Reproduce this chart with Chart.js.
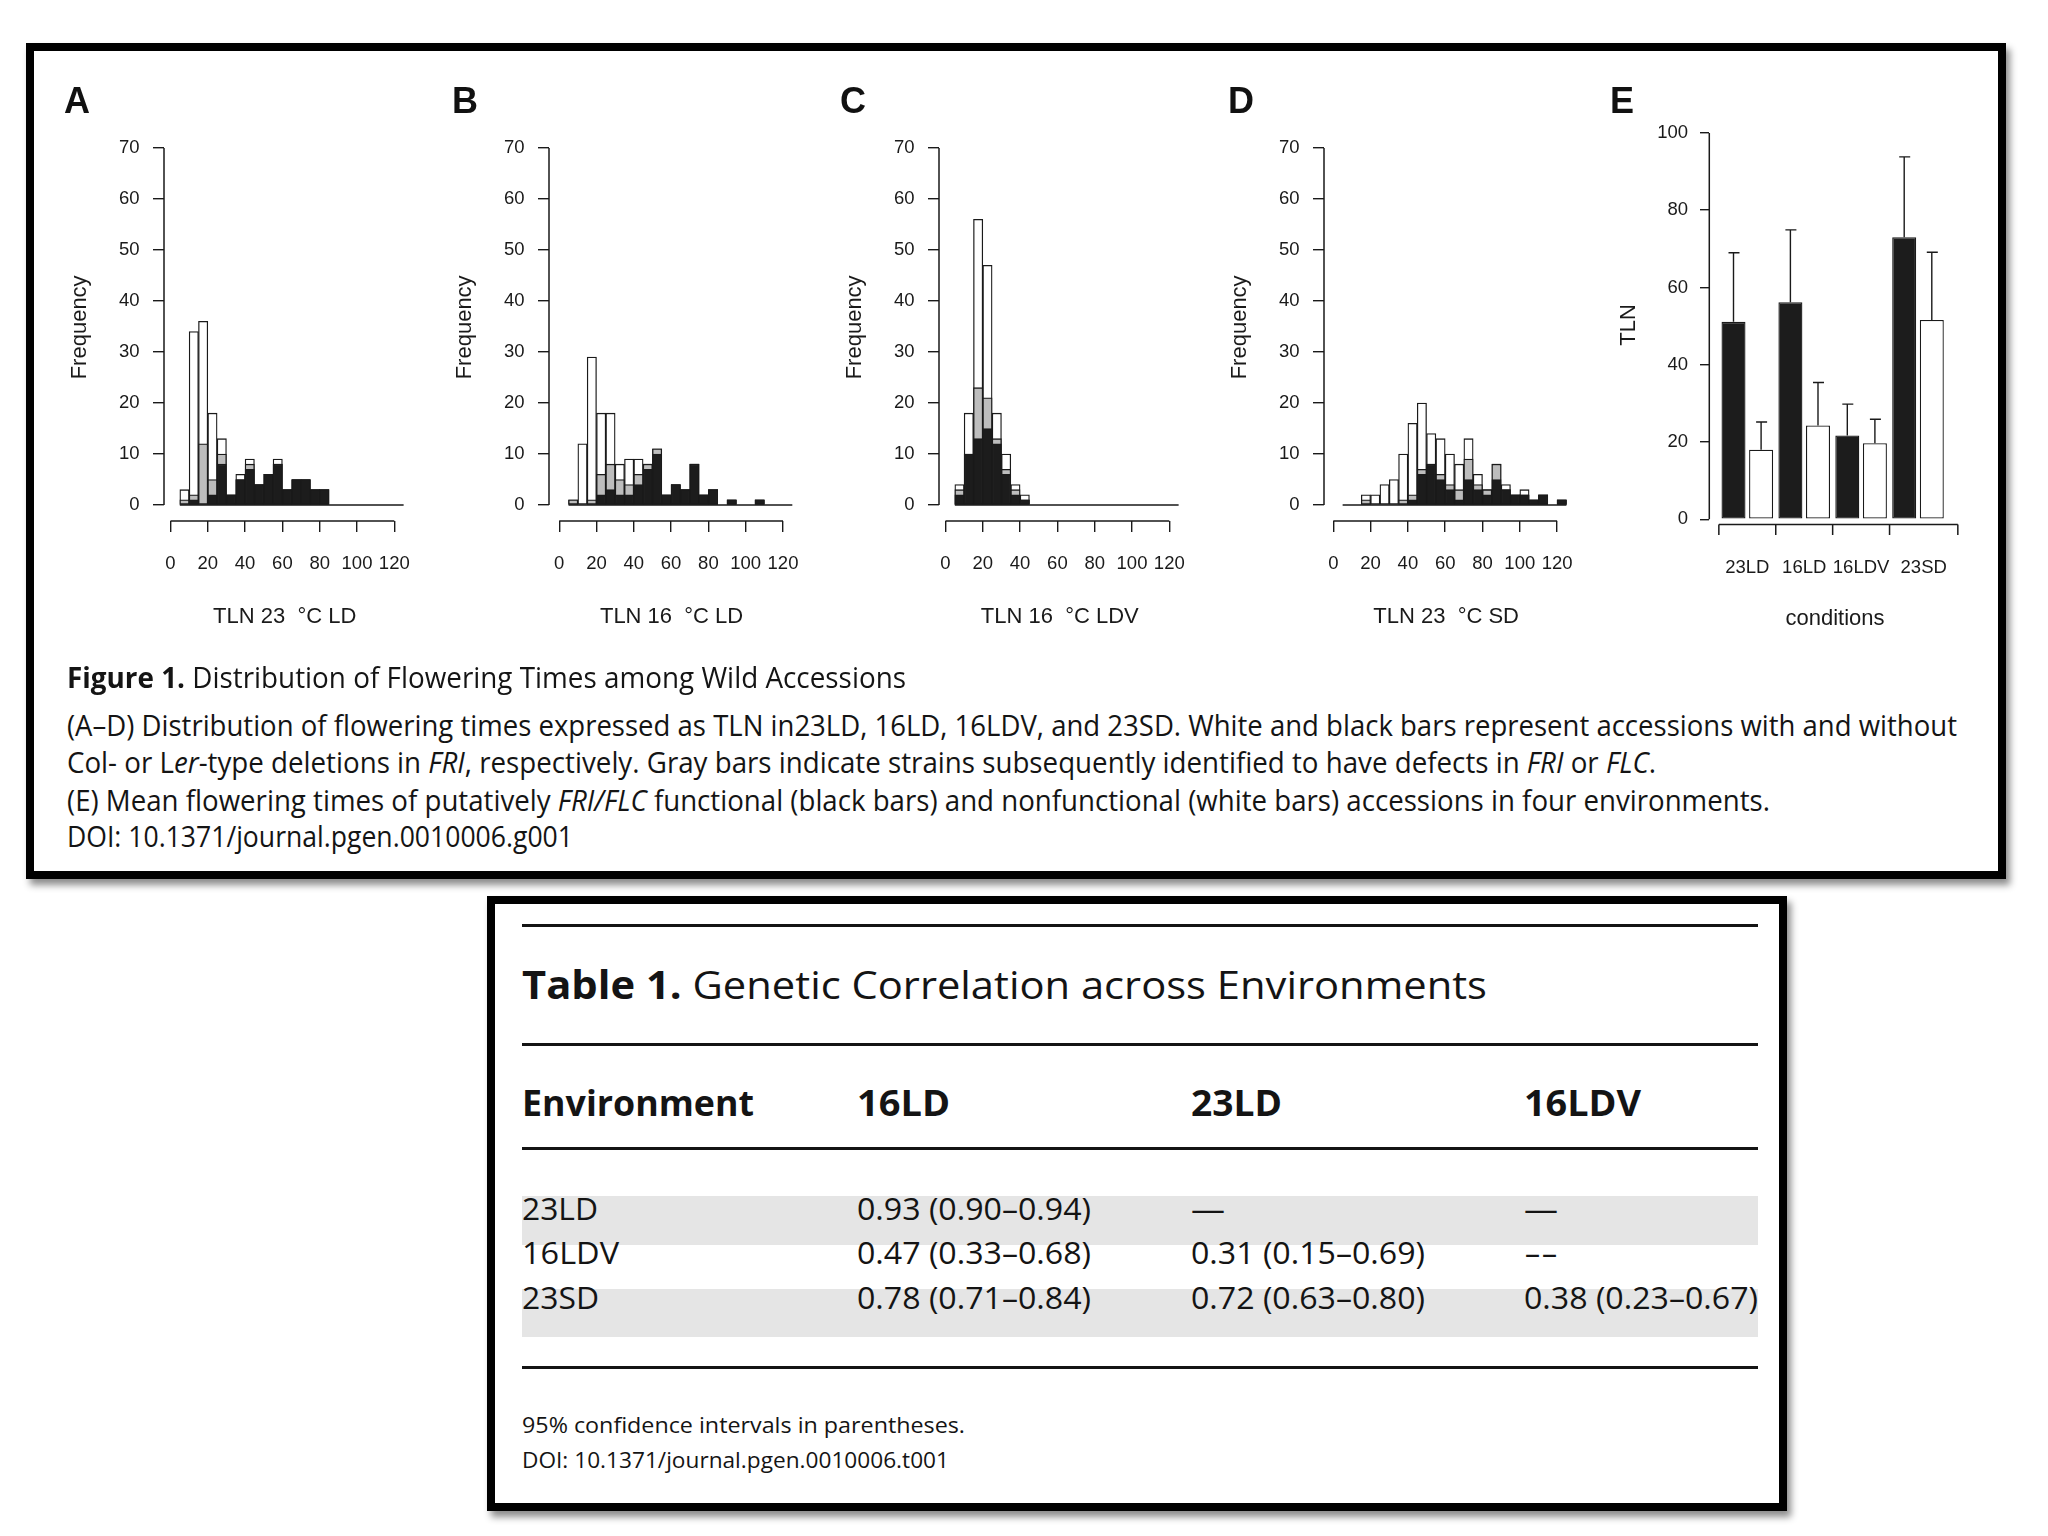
<!DOCTYPE html>
<html><head><meta charset="utf-8"><title>Figure 1 and Table 1</title>
<script src="https://cdn.jsdelivr.net/npm/chart.js@4/dist/chart.umd.min.js"></script>
<style>
html,body{margin:0;padding:0;background:#fff;width:2048px;height:1536px;overflow:hidden;}
#page{position:relative;width:2048px;height:1536px;}
.box{position:absolute;border:8px solid #000;box-sizing:border-box;background:#fff;box-shadow:4px 6px 7px rgba(0,0,0,0.45);}
canvas{position:absolute;}
.t{position:absolute;white-space:nowrap;font-family:'Open Sans','Noto Sans',sans-serif;color:#141414;line-height:1;transform-origin:0 0;}
.lbl{position:absolute;font-family:'Liberation Sans',Arial,sans-serif;font-weight:bold;font-size:36px;line-height:1;color:#111;transform:translateX(-50%);}
.rule{position:absolute;height:3px;background:#141414;}
.band{position:absolute;background:#e5e5e5;}
</style></head>
<body><div id="page">
<div class="box" style="left:26px;top:43px;width:1980px;height:836px"></div>
<div class="box" style="left:487px;top:896px;width:1300px;height:615px"></div>
</div>
<script>
// ================= DATA =================
const binStarts = [5,10,15,20,25,30,35,40,45,50,55,60,65,70,75,80,85,90,95,100,105,110,115,120];
const binWidth = 5;
const histXTicks = [0,20,40,60,80,100,120];
const histYTicks = [0,10,20,30,40,50,60,70];

// Panel A: TLN 23 °C LD (white = all, gray = with FRI/FLC defects, black = functional)
const totalA = [3,34,36,18,13,2,6,9,4,6,9,3,5,5,3,3,0,0,0,0,0,0,0,0];
const grayA  = [1,2,12,5,10,2,5,8,4,6,8,3,5,5,3,3,0,0,0,0,0,0,0,0];
const blackA = [0,1,0,2,8,2,5,7,4,6,8,3,5,5,3,3,0,0,0,0,0,0,0,0];
// Panel B: TLN 16 °C LD
const totalB = [1,12,29,18,18,8,9,9,8,11,2,4,3,8,2,3,0,1,0,0,1,0,0,0];
const grayB  = [1,0,1,6,8,5,4,6,8,11,2,4,3,8,2,3,0,1,0,0,1,0,0,0];
const blackB = [0,0,0,2,3,2,2,4,7,10,2,4,3,8,2,3,0,1,0,0,1,0,0,0];
// Panel C: TLN 16 °C LDV
const totalC = [4,18,56,47,18,10,4,2,0,0,0,0,0,0,0,0,0,0,0,0,0,0,0,0];
const grayC  = [3,10,23,21,13,7,3,1,0,0,0,0,0,0,0,0,0,0,0,0,0,0,0,0];
const blackC = [2,10,13,15,12,6,2,1,0,0,0,0,0,0,0,0,0,0,0,0,0,0,0,0];
// Panel D: TLN 23 °C SD
const totalD = [0,0,2,2,4,5,10,16,20,14,13,10,8,13,6,3,8,4,2,3,1,2,0,1];
const grayD  = [0,0,1,0,0,0,1,2,7,8,6,4,3,9,4,3,8,3,2,2,1,2,0,1];
const blackD = [0,0,0,0,0,0,0,1,6,8,5,3,1,5,3,2,5,3,2,2,1,2,0,1];

const panelTitles = ['TLN 23  \u00B0C LD','TLN 16  \u00B0C LD','TLN 16  \u00B0C LDV','TLN 23  \u00B0C SD'];
const panelLetters = ['A','B','C','D','E'];

// Panel E: mean TLN (+SD) of functional (black) and nonfunctional (white) accessions
const conditions = ['23LD','16LD','16LDV','23SD'];
const functionalMean = [51.1,56.2,21.7,73.0];
const functionalSD = [17.9,18.7,8.1,20.8];
const nonfunctionalMean = [18.0,24.3,19.7,51.6];
const nonfunctionalSD = [7.2,11.1,6.2,17.5];
const tlnTicks = [0,20,40,60,80,100];
const conditionBreaks = [0.5,1.5,2.5,3.5,4.7];

// Table 1
const tableHeader = ['Environment','16LD','23LD','16LDV'];
const tableRows = ['23LD','16LDV','23SD'];
const corr16LD = ['0.93 (0.90\u20130.94)','0.47 (0.33\u20130.68)','0.78 (0.71\u20130.84)'];
const corr23LD = ['\u2014','0.31 (0.15\u20130.69)','0.72 (0.63\u20130.80)'];
const corr16LDV = ['\u2014','--','0.38 (0.23\u20130.67)'];

// ================= RENDER =================
Chart.defaults.font.family = "'Liberation Sans', Arial, Helvetica, sans-serif";
Chart.defaults.color = '#1a1a1a';
Chart.defaults.animation = false;
const INK = '#1a1a1a';
const TICKFONT = {family:"'Liberation Sans', Arial, sans-serif", size:18.5};
const page = document.getElementById('page');

function addCanvas(l,t,w,h){
  const c=document.createElement('canvas');
  c.width=w;c.height=h;c.style.left=l+'px';c.style.top=t+'px';c.style.width=w+'px';c.style.height=h+'px';
  page.appendChild(c);return c;
}

const rAxes = {
  id:'rAxes',
  afterDatasetsDraw(chart, args, o){
    const {ctx, chartArea:a, scales:{x,y}} = chart;
    ctx.save();
    ctx.strokeStyle = INK; ctx.lineWidth = 1.5;
    ctx.beginPath();
    ctx.moveTo(a.left, y.getPixelForValue(o.yLine[0])); ctx.lineTo(a.left, y.getPixelForValue(o.yLine[1]));
    ctx.moveTo(x.getPixelForValue(o.xLine[0]), a.bottom); ctx.lineTo(x.getPixelForValue(o.xLine[1]), a.bottom);
    if (o.baseline){
      const yb = y.getPixelForValue(0);
      ctx.moveTo(x.getPixelForValue(o.baseline[0]), yb); ctx.lineTo(x.getPixelForValue(o.baseline[1]), yb);
    }
    if (o.marks) o.marks.forEach(v=>{const px=x.getPixelForValue(v); ctx.moveTo(px,a.bottom); ctx.lineTo(px,a.bottom+o.markLen);});
    ctx.stroke();
    if (o.errors){
      ctx.lineWidth = 1.4;
      ctx.beginPath();
      o.errors.forEach((sd,di)=>{
        const meta = chart.getDatasetMeta(di);
        const ds = chart.data.datasets[di].data;
        meta.data.forEach((bar,j)=>{
          const top = y.getPixelForValue(ds[j].y + sd[j]);
          ctx.moveTo(bar.x, bar.y); ctx.lineTo(bar.x, top);
          ctx.moveTo(bar.x-5, top); ctx.lineTo(bar.x+6, top);
        });
      });
      ctx.stroke();
    }
    ctx.restore();
  }
};

function barSet(label, counts, color){
  return {label, data: counts.map((v,i)=>({x: binStarts[i] + binWidth/2, y: v ? v : null})),
    backgroundColor: color, borderColor: INK, borderWidth: 1.3, borderSkipped: false,
    grouped: false, barPercentage: 1, categoryPercentage: 1};
}

// geometry of histogram panels (pixels)
const HG = {unit:1.865, zeroY:505, yUnit:5.1, axisY:521, yTop:72.8, xRight:126, Wy:100, Hx:120, cT:80, cH:580, cW:400};
const histPanels = [
  {yAxisX:164.3, x0:170.8, total:totalA, gray:grayA, black:blackA},
  {yAxisX:549.3, x0:559.5, total:totalB, gray:grayB, black:blackB},
  {yAxisX:939.3, x0:945.8, total:totalC, gray:grayC, black:blackC},
  {yAxisX:1324.3, x0:1333.6, total:totalD, gray:grayD, black:blackD}
];

histPanels.forEach((p,k)=>{
  const cL = p.yAxisX - 110;
  const area = {l:p.yAxisX, r:p.x0 + HG.xRight*HG.unit, t:HG.zeroY - HG.yTop*HG.yUnit, b:HG.axisY};
  const cv = addCanvas(cL, HG.cT, HG.cW, HG.cH);
  new Chart(cv, {
    type:'bar',
    data:{datasets:[
      barSet('functional', p.black, '#1c1c1c'),
      barSet('FRI/FLC defects', p.gray, '#bdbdbd'),
      barSet('all accessions', p.total, '#ffffff')
    ]},
    options:{
      responsive:false, devicePixelRatio:1, animation:false,
      layout:{padding:{left:area.l-cL-HG.Wy, top:area.t-HG.cT, right:cL+HG.cW-area.r, bottom:HG.cT+HG.cH-area.b-HG.Hx}},
      plugins:{legend:{display:false}, tooltip:{enabled:false},
        rAxes:{yLine:[0,70], xLine:[0,120], baseline:[binStarts[0], binStarts[binStarts.length-1]+binWidth]}},
      scales:{
        x:{type:'linear', offset:false, min:(area.l-p.x0)/HG.unit, max:(area.r-p.x0)/HG.unit,
          afterBuildTicks:ax=>{ax.ticks=histXTicks.map(v=>({value:v}));},
          afterFit:s=>{s.height=HG.Hx;},
          grid:{display:true, offset:false, drawOnChartArea:false, drawTicks:true, tickLength:11, color:INK, lineWidth:1.4},
          border:{display:false},
          ticks:{autoSkip:false, maxRotation:0, minRotation:0, padding:20.9, font:TICKFONT, color:INK},
          title:{display:true, text:panelTitles[k], font:{size:22}, color:INK, padding:{top:0,bottom:10.8}}},
        y:{type:'linear', min:(HG.zeroY-area.b)/HG.yUnit, max:HG.yTop,
          afterBuildTicks:ax=>{ax.ticks=histYTicks.map(v=>({value:v}));},
          afterFit:s=>{s.width=HG.Wy;},
          grid:{display:true, drawOnChartArea:false, drawTicks:true, tickLength:11, color:INK, lineWidth:1.4},
          border:{display:false},
          ticks:{autoSkip:false, padding:13.5, font:TICKFONT, color:INK},
          title:{display:true, text:'Frequency', font:{size:22}, color:INK, padding:{top:2.8,bottom:0}}}
      }
    },
    plugins:[rAxes]
  });
});

// Panel E
(function(){
  const cL=1600, cT=80, cW=400, cH=580, Wy=100, Hx=120;
  const xUnit=56.9, x1=1747.3, zeroY=519.3, yUnit=3.864, yTop=102;
  const area={l:1709.3, r:1960.7, b:524.6, t:zeroY - yTop*yUnit};
  const mids = conditionBreaks.slice(0,-1).map((b,i)=>(b+conditionBreaks[i+1])/2);
  const cv = addCanvas(cL,cT,cW,cH);
  const mk = (label, mean, color)=>({label, data: mean.map((v,i)=>({x:i+1, y:v})),
    backgroundColor:color, borderColor:INK, borderWidth:1.3, borderSkipped:false,
    barPercentage:0.87, categoryPercentage:0.97});
  new Chart(cv,{
    type:'bar',
    data:{datasets:[mk('functional', functionalMean, '#1c1c1c'), mk('nonfunctional', nonfunctionalMean, '#ffffff')]},
    options:{
      responsive:false, devicePixelRatio:1, animation:false,
      layout:{padding:{left:area.l-cL-Wy, top:area.t-cT, right:cL+cW-area.r, bottom:cT+cH-area.b-Hx}},
      plugins:{legend:{display:false}, tooltip:{enabled:false},
        rAxes:{yLine:[0,100], xLine:[conditionBreaks[0], conditionBreaks[conditionBreaks.length-1]],
               marks:conditionBreaks, markLen:10.5, errors:[functionalSD, nonfunctionalSD]}},
      scales:{
        x:{type:'linear', offset:false, min:1+(area.l-x1)/xUnit, max:1+(area.r-x1)/xUnit,
          afterBuildTicks:ax=>{ax.ticks=mids.map(v=>({value:v}));},
          afterFit:s=>{s.height=Hx;},
          grid:{display:false, offset:false, drawOnChartArea:false, drawTicks:false},
          border:{display:false},
          ticks:{autoSkip:false, maxRotation:0, minRotation:0, padding:31.8, font:TICKFONT, color:INK,
                 callback:(v,i)=>conditions[i]},
          title:{display:true, text:'conditions', font:{size:22}, color:INK, padding:{top:0,bottom:12.4}}},
        y:{type:'linear', min:(zeroY-area.b)/yUnit, max:yTop,
          afterBuildTicks:ax=>{ax.ticks=tlnTicks.map(v=>({value:v}));},
          afterFit:s=>{s.width=Wy;},
          grid:{display:true, drawOnChartArea:false, drawTicks:true, tickLength:9.3, color:INK, lineWidth:1.4},
          border:{display:false},
          ticks:{autoSkip:false, padding:12, font:TICKFONT, color:INK},
          title:{display:true, text:'TLN', font:{size:22}, color:INK, padding:{top:6.5,bottom:0}}}
      }
    },
    plugins:[rAxes]
  });
})();

// panel letters
const letterPos = [[77,101],[465,101],[853,101],[1241,101],[1622,101]];
panelLetters.forEach((L,i)=>{
  const d=document.createElement('div'); d.className='lbl'; d.textContent=L;
  d.style.left=letterPos[i][0]+'px'; d.style.top=(letterPos[i][1]-0.4885*36)+'px';
  page.appendChild(d);
});

// text helper: x, baseline, font size, target width
function addText(html,x,base,fs,w,bold){
  const d=document.createElement('div'); d.className='t'; d.innerHTML=html;
  d.style.fontSize=fs+'px'; d.style.left=x+'px'; d.style.top=(base-0.888*fs)+'px';
  if(bold) d.style.fontWeight='700';
  page.appendChild(d);
  if(w){const nat=d.getBoundingClientRect().width; if(nat>0) d.style.transform='scaleX('+(w/nat)+')';}
  return d;
}

// Figure caption
addText('<b>Figure 1.</b> Distribution of Flowering Times among Wild Accessions',67,688,29,839);
addText('(A\u2013D) Distribution of flowering times expressed as TLN in23LD, 16LD, 16LDV, and 23SD. White and black bars represent accessions with and without',67,736,29,1890);
addText('Col- or L<i>er</i>-type deletions in <i>FRI</i>, respectively. Gray bars indicate strains subsequently identified to have defects in <i>FRI</i> or <i>FLC</i>.',67,773,29,1589);
addText('(E) Mean flowering times of putatively <i>FRI/FLC</i> functional (black bars) and nonfunctional (white bars) accessions in four environments.',67,811,29,1703);
addText('DOI: 10.1371/journal.pgen.0010006.g001',67,847,29,506);

// Table
function rule(y){const r=document.createElement('div');r.className='rule';r.style.left='522px';r.style.width='1236px';r.style.top=(y-1.5)+'px';page.appendChild(r);}
function band(t,h){const b=document.createElement('div');b.className='band';b.style.left='522px';b.style.width='1236px';b.style.top=t+'px';b.style.height=h+'px';page.appendChild(b);}
band(1196,49); band(1289,48);
[925,1044,1148,1367].forEach(rule);
addText('<b>Table 1.</b> Genetic Correlation across Environments',522,999,39,965);
const colX=[522,857,1191,1524];
const headW=[232,93,91,117];
tableHeader.forEach((h,i)=>addText(h,colX[i],1116,35,headW[i],true));
const rowBase=[1221,1265,1310];
const rowLabelW=[76,97,77];
const cellW = s => s.length>3 ? 234 : 34;
tableRows.forEach((r,i)=>{
  addText(r,colX[0],rowBase[i],31,rowLabelW[i]);
  addText(corr16LD[i],colX[1],rowBase[i],31,cellW(corr16LD[i]));
  addText(corr23LD[i],colX[2],rowBase[i],31,cellW(corr23LD[i]));
  addText(corr16LDV[i],colX[3],rowBase[i],31,cellW(corr16LDV[i]));
});
addText('95% confidence intervals in parentheses.',522,1434,21,443);
addText('DOI: 10.1371/journal.pgen.0010006.t001',522,1469,21,427);
</script>
</body></html>
